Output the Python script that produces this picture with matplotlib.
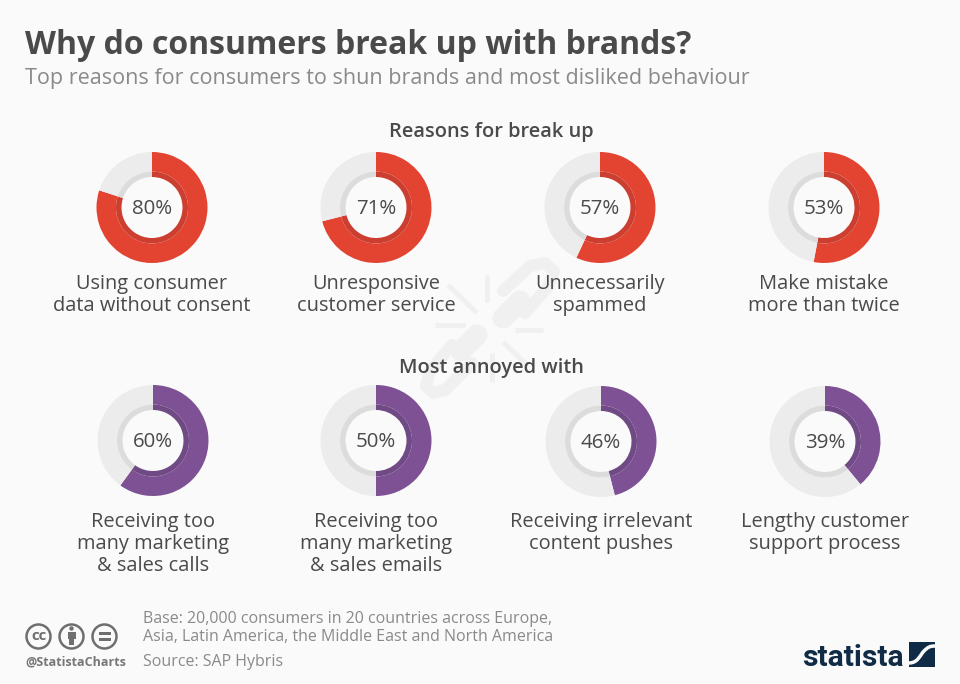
import matplotlib
matplotlib.use("Agg")
import matplotlib.pyplot as plt
from matplotlib.patches import Circle, Rectangle, PathPatch
from matplotlib.path import Path

plt.rcParams['font.family'] = ['Open Sans', 'DejaVu Sans']

W, H = 960, 684
BG = '#fafafa'
TEXT = '#4a4a4a'
GREY = '#8a8a8a'
NAVY = '#0f2b46'

title = "Why do consumers break up with brands?"
subtitle = "Top reasons for consumers to shun brands and most disliked behaviour"
heading_top = "Reasons for break up"
heading_bottom = "Most annoyed with"
values_top = [80, 71, 57, 53]
labels_top = ["Using consumer\ndata without consent", "Unresponsive\ncustomer service",
              "Unnecessarily\nspammed", "Make mistake\nmore than twice"]
values_bottom = [60, 50, 46, 39]
labels_bottom = ["Receiving too\nmany marketing\n& sales calls", "Receiving too\nmany marketing\n& sales emails",
                 "Receiving irrelevant\ncontent pushes", "Lengthy customer\nsupport process"]
base_note = "Base: 20,000 consumers in 20 countries across Europe,\nAsia, Latin America, the Middle East and North America"
source_note = "Source: SAP Hybris"
handle = "@StatistaCharts"

fig = plt.figure(figsize=(W / 100, H / 100), dpi=100, facecolor=BG)
bg = fig.add_axes([0, 0, 1, 1])
bg.set_xlim(0, W); bg.set_ylim(H, 0); bg.axis('off')

def pt(px):
    return px * 0.72

# watermark: broken chain link
WM = '#f0f0f0'
for x0, y0, x1, y1 in [(487, 275, 487, 302), (448, 285, 477, 313), (435, 325, 465, 325),
                       (515, 330, 543, 330), (503, 342, 527, 365), (492, 353, 492, 382)]:
    bg.plot([x0, x1], [y0, y1], color=WM, lw=pt(5), solid_capstyle='butt', zorder=0)
bg.plot([503, 530, 545, 554, 548, 525], [291, 266, 263, 271, 287, 313], color=WM, lw=pt(12),
        solid_capstyle='round', solid_joinstyle='round', zorder=0)
bg.plot([503, 520], [318, 301], color=WM, lw=pt(21), solid_capstyle='round', zorder=0)
bg.plot([472, 445, 433, 426, 430, 452], [363, 390, 393, 386, 371, 345], color=WM, lw=pt(12),
        solid_capstyle='round', solid_joinstyle='round', zorder=0)
bg.plot([461, 477], [351, 335], color=WM, lw=pt(21), solid_capstyle='round', zorder=0)

def donut(cx, cy, value, color, dark, inner):
    R = 55.5
    ax = fig.add_axes([(cx - R) / W, 1 - (cy + R) / H, 2 * R / W, 2 * R / H])
    ax.pie([value, 100 - value], colors=[color, '#ececec'], startangle=90, counterclock=False,
           radius=1, wedgeprops=dict(width=1 - 36 / R, linewidth=0))
    ax.pie([value, 100 - value], colors=[dark, inner], startangle=90, counterclock=False,
           radius=36 / R, wedgeprops=dict(width=5.5 / R, linewidth=0))
    ax.set_xlim(-1, 1); ax.set_ylim(-1, 1)
    ax.patch.set_alpha(0)
    ax.text(0, -0.02, f"{value}%", ha='center', va='center', fontsize=pt(20.5), color=TEXT, fontweight=500)

centers_top = [(152, 207.5), (376, 207.5), (600, 207.5), (824, 207.5)]
centers_bottom = [(153, 440.5), (376, 440.5), (601, 441.5), (825, 441.5)]

for (cx, cy), v, l in zip(centers_top, values_top, labels_top):
    donut(cx, cy, v, '#e34432', '#cc3f30', '#dcdcdc')
    bg.text(cx, 295, l, ha='center', va='center', fontsize=pt(20), color=TEXT, linespacing=1.13)
for (cx, cy), v, l in zip(centers_bottom, values_bottom, labels_bottom):
    donut(cx, cy, v, '#7d5193', '#704a85', '#dcdcdc')
    bg.text(cx, 512, l, ha='center', va='top', fontsize=pt(20), color=TEXT, linespacing=1.13)

bg.text(25, 54, title, fontsize=pt(32), fontweight='bold', color=TEXT, va='baseline', ha='left')
bg.text(25, 84, subtitle, fontsize=pt(21.5), color=GREY, va='baseline', ha='left')
bg.text(491, 137, heading_top, fontsize=pt(20), fontweight=600, color=TEXT, va='baseline', ha='center')
bg.text(491, 373, heading_bottom, fontsize=pt(20), fontweight=600, color=TEXT, va='baseline', ha='center')

bg.text(143, 628, base_note, fontsize=pt(16), color=GREY, va='center', ha='left', linespacing=1.2)
bg.text(143, 662, source_note, fontsize=pt(16), color=GREY, va='center', ha='left')
bg.text(25, 662, handle, fontsize=pt(12.5), fontweight='bold', color='#777777', va='center', ha='left')

# licence icons
IC = '#6f6f6f'
for cx in (38.5, 71.5, 104.5):
    bg.add_patch(Circle((cx, 636.5), 12, fill=False, ec=IC, lw=pt(2.5)))
bg.text(38.5, 636, "cc", fontsize=pt(15), fontweight='bold', color=IC, ha='center', va='center')
bg.add_patch(Circle((71.5, 628.5), 2.2, fc=IC, ec='none'))
bg.add_patch(Rectangle((67.5, 632), 8, 6.5, fc=IC, ec='none'))
bg.add_patch(Rectangle((69, 638), 5, 7, fc=IC, ec='none'))
bg.add_patch(Rectangle((98.5, 632), 12, 2.6, fc=IC, ec='none'))
bg.add_patch(Rectangle((98.5, 638), 12, 2.6, fc=IC, ec='none'))

# statista logo
bg.text(802, 666, "statista", fontsize=pt(30), fontweight='bold', color=NAVY, family=['Roboto', 'DejaVu Sans'],
        va='baseline', ha='left')
bg.add_patch(Rectangle((909, 642), 26, 25, fc=NAVY, ec='none'))
wave = Path([(909, 663), (918, 663), (920, 655), (924, 651), (928, 647), (930, 646), (935, 646)],
            [Path.MOVETO, Path.CURVE4, Path.CURVE4, Path.CURVE4, Path.CURVE4, Path.CURVE4, Path.CURVE4])
bg.add_patch(PathPatch(wave, fill=False, ec=BG, lw=pt(3.5), capstyle='butt'))

fig.savefig("out.png", dpi=100, facecolor=BG)
